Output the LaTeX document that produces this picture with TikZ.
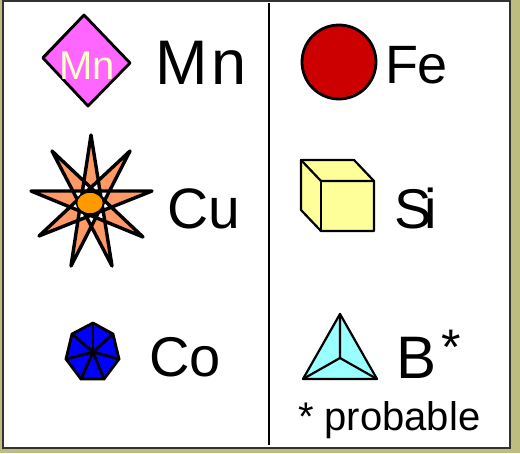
\documentclass[tikz,border=0pt]{standalone}
\usepackage{fontspec}
\setmainfont{Liberation Sans}
\definecolor{olive}{HTML}{BDBD80}
\definecolor{mnfill}{HTML}{FF66FF}
\definecolor{mntext}{HTML}{FFFFCC}
\definecolor{cufill}{HTML}{FF9966}
\definecolor{cucore}{HTML}{FF9900}
\definecolor{cofill}{HTML}{0000FF}
\definecolor{fefill}{HTML}{CC0000}
\definecolor{sifill}{HTML}{FFFF99}
\definecolor{bfill}{HTML}{99FFFF}
\tikzset{
  x=1pt,y=-1pt,
  shape line/.style={draw=black,line width=2.8pt,line join=round,line cap=round},
  thin shape/.style={draw=black,line width=2.2pt,line join=round,line cap=round},
  lab/.style={inner sep=0pt,outer sep=0pt,anchor=base west,text=black},
}
\newcommand{\fs}[1]{\fontsize{#1}{#1}\selectfont}
\begin{document}
\begin{tikzpicture}
\useasboundingbox (0,0) rectangle (520,453);
\fill[olive] (0,0) rectangle (520,453);
\draw[draw=black!80,line width=2pt,fill=white] (3,1) rectangle (510,448);
\draw[draw=black,line width=2pt] (269,3) -- (269,445);
% Mn
\draw[shape line,fill=mnfill] (84,15) -- (130,63) -- (88,106) -- (43,58) -- cycle;
\draw[draw=black,line width=2pt,line cap=round] (84,15) -- (43,57);
\node[lab,text=mntext] (mnin) at (59,79) {\fs{40}Mn};
\node[lab] (mn) at (155,84) {\fs{63}M\kern4pt n};
% Fe
\draw[shape line,fill=fefill] (339,62) circle (37);
\node[lab] (fe) at (385,83) {\fs{54}Fe};
% Cu
\draw[line width=3.4pt,draw=black,line join=round,line cap=round,fill=cufill,even odd rule]
  (91,135) -- (112,266) -- (52,151) -- (143,237) -- (31,191) -- (152,191)
  -- (39,236) -- (130,151) -- (71,266) -- cycle;
\draw[line width=1.5pt,draw=black,fill=cucore] (90,203) ellipse (13.5 and 11);
\node[lab] (cu) at (167,228) {\fs{57}Cu};
% Si
\draw[thin shape,fill=sifill] (301,160) -- (354,160) -- (374,181) -- (374,231) -- (321,231) -- (301,210) -- cycle;
\draw[thin shape] (301,160) -- (321,181) -- (374,181);
\draw[thin shape] (321,181) -- (321,231);
\node[lab] (si) at (394,228) {\fs{56}S\kern-7pt i};
% Co
\draw[shape line,fill=cofill] (93,323) -- (113,334) -- (119,359) -- (104,379) -- (81,379) -- (66,359) -- (72,334) -- cycle;
\foreach \p in {(93,323),(113,334),(119,359),(104,379),(81,379),(66,359),(72,334)}
  \draw[shape line] (93,352) -- \p;
\node[lab] (co) at (149,376) {\fs{56}Co};
% B
\draw[thin shape,fill=bfill] (340,314) -- (377,379) -- (303,379) -- cycle;
\draw[thin shape] (340,314) -- (340,358) (303,379) -- (340,358) -- (377,379);
\node[lab] (b) at (396,378) {\fs{60}B};
\node[lab] (star) at (441,364) {\fs{50}*};
\node[lab] (prob) at (298,430) {\fs{40}* probable};
\end{tikzpicture}
\end{document}
